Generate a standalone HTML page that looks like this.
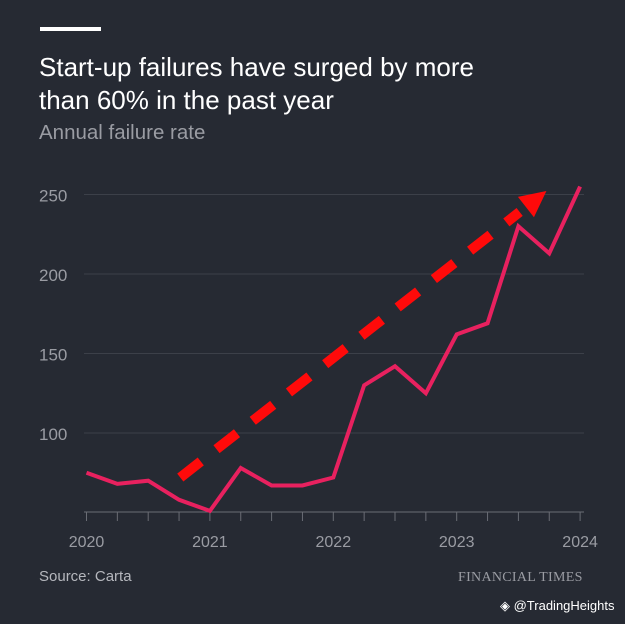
<!DOCTYPE html>
<html><head><meta charset="utf-8"><style>
body{margin:0;background:#262a33;}
#wrap{position:relative;width:625px;height:624px;background:#262a33;overflow:hidden;font-family:"Liberation Sans",sans-serif;}
.t{position:absolute;white-space:nowrap;}
</style></head><body>
<div id="wrap">
<div style="position:absolute;left:40px;top:27px;width:61px;height:4px;background:#fff"></div>
<div class="t" style="left:39px;top:51px;color:#fff;font-size:26px;line-height:33px">Start-up failures have surged by more<br>than 60% in the past year</div>
<div class="t" style="left:39px;top:121px;color:#9a9ca3;font-size:20.5px">Annual failure rate</div>
<svg id="c" width="625" height="624" style="position:absolute;left:0;top:0"></svg>
<div class="t" style="left:39px;top:568px;color:#b5b7bd;font-size:15px">Source: Carta</div>
<div class="t" style="left:458px;top:570px;color:#9a9ca3;font-size:14px;font-family:'Liberation Serif',serif;letter-spacing:0.3px">FINANCIAL TIMES</div>
<div class="t" style="left:500px;top:598px;color:#fff;font-size:13px">◈ @TradingHeights</div>
</div>
<script>
const yearLabels=["2020","2021","2022","2023","2024"];
const yTicks=[100,150,200,250];
const rate=[75,68,70,58,51,78,67,67,72,130,142,125,162,169,230,213,255];
const trendStart=[0.76,72];
const trendEnd=[3.51,239];
const NS="http://www.w3.org/2000/svg";
const svg=document.getElementById('c');
const x=t=>86.5+t*123.4;
const y=v=>433-(v-100)*1.59;
function mk(tag,at){const e=document.createElementNS(NS,tag);for(const k in at)e.setAttribute(k,at[k]);svg.appendChild(e);return e;}
yTicks.forEach(v=>{
 const g=mk('line',{x1:84,x2:584,y1:y(v),y2:y(v),stroke:'#3c4049','stroke-width':1});
 
 
 const t=mk('text',{x:39,y:y(v)+7,fill:'#9a9ca3','font-size':17,'font-family':'Liberation Sans, sans-serif'});
 t.textContent=v;
 
 
});
const base=512;
const ax=mk('line',{x1:84,x2:584,y1:base,y2:base,stroke:'#6a6d75','stroke-width':1});


for(let q=0;q<=16;q++){
 const tk=mk('line',{x1:x(q/4),x2:x(q/4),y1:base,y2:base+9,stroke:'#6a6d75','stroke-width':1});
 
 
}
yearLabels.forEach((l,i)=>{
 const t=mk('text',{x:x(i),y:base+35,fill:'#9a9ca3','font-size':16,'text-anchor':'middle','font-family':'Liberation Sans, sans-serif'});
 t.textContent=l;
 
 
});
const ax1=x(trendStart[0]),ay1=y(trendStart[1]),ax2=x(trendEnd[0]),ay2=y(trendEnd[1]);
const tr=mk('line',{x1:ax1,y1:ay1,x2:ax2,y2:ay2,stroke:'#ff0a0a','stroke-width':10,'stroke-dasharray':'26 20'});


const ang=Math.atan2(ay2-ay1,ax2-ax1),tx=ax2+Math.cos(ang)*34,ty=ay2+Math.sin(ang)*34;
const px=-Math.sin(ang),py=Math.cos(ang),bx=ax2+Math.cos(ang)*8,by=ay2+Math.sin(ang)*8;
const hd=mk('polygon',{points:`${tx},${ty} ${bx+px*13},${by+py*13} ${bx-px*13},${by-py*13}`,fill:'#ff0a0a'});


const ln=mk('polyline',{points:rate.map((v,i)=>x(i/4)+','+y(v)).join(' '),fill:'none',stroke:'#e8215f','stroke-width':4,'stroke-linejoin':'miter'});


</script>
</body></html>
